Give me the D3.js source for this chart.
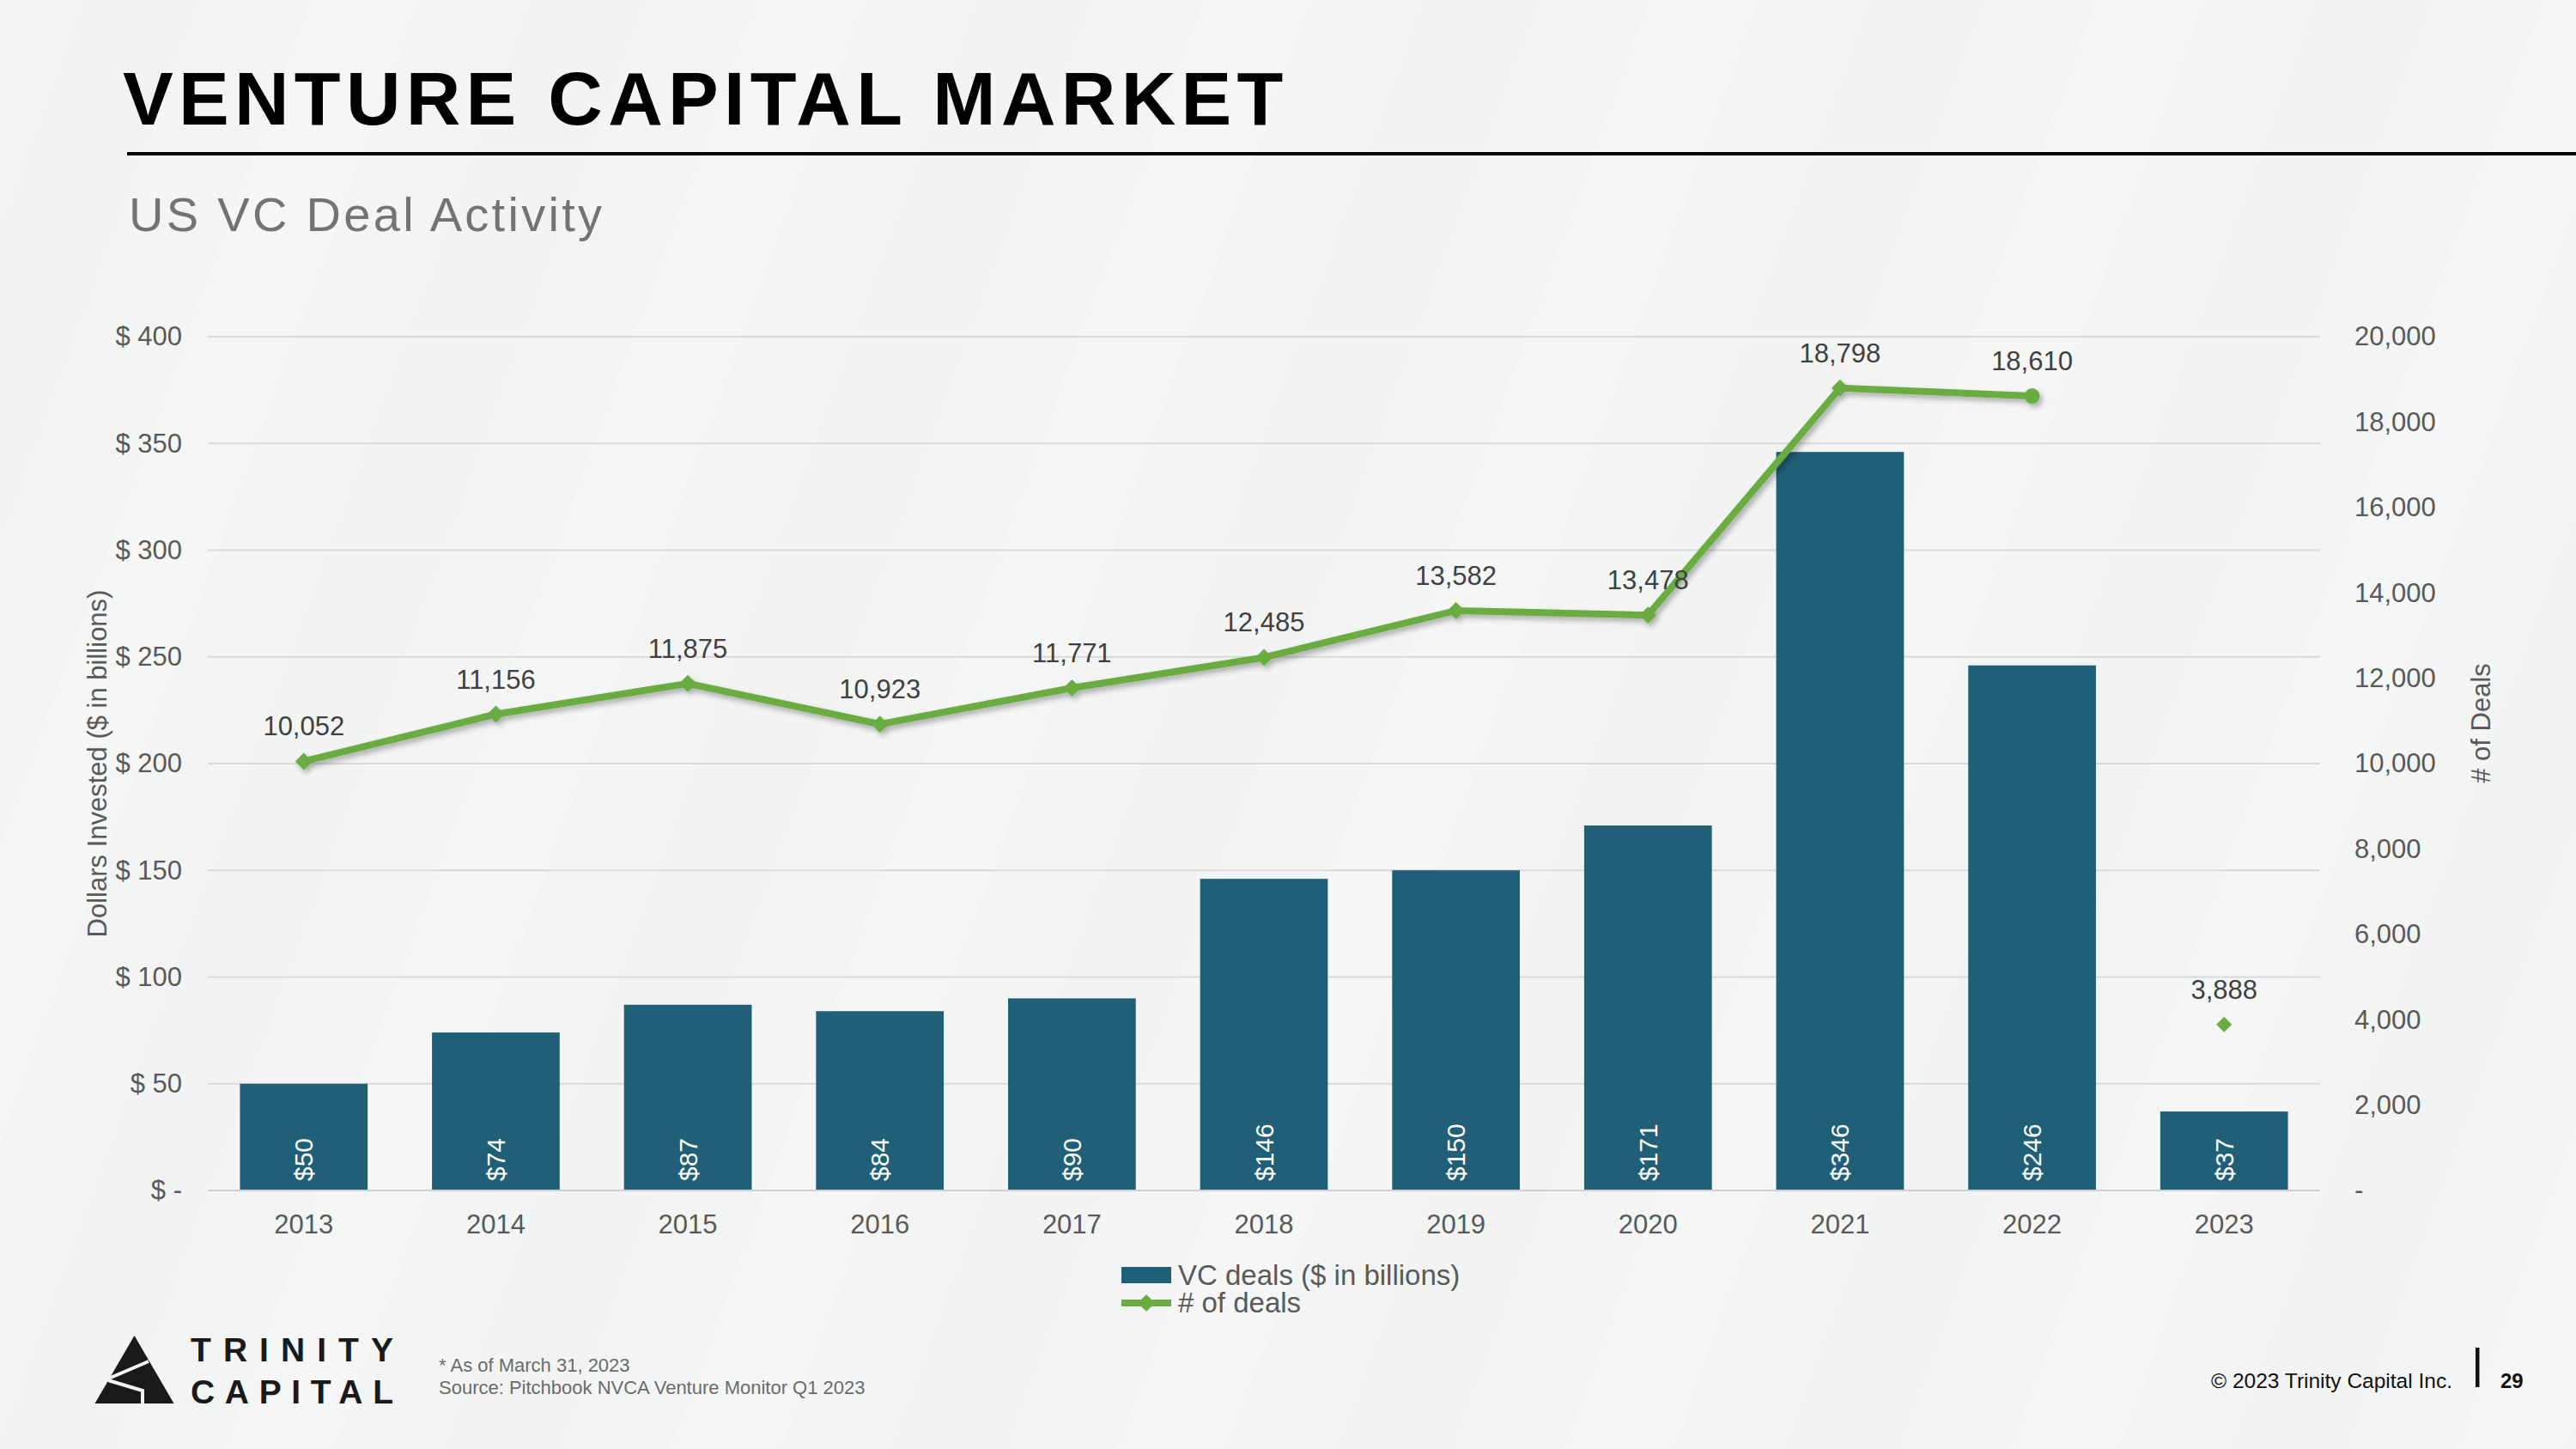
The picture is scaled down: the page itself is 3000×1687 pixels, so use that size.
<!DOCTYPE html>
<html>
<head>
<meta charset="utf-8">
<script src="https://cdn.jsdelivr.net/npm/d3@7"></script>
<style>
  html, body { margin: 0; padding: 0; background: #f4f6f6; }
  svg { display: block; font-family: "Liberation Sans", Arial, sans-serif; }
</style>
</head>
<body>
<svg id="chart" width="3000" height="1687"></svg>
<script>
// ---- data ----
const years = ["2013","2014","2015","2016","2017","2018","2019","2020","2021","2022","2023"];
const dollars = [50, 74, 87, 84, 90, 146, 150, 171, 346, 246, 37];
const deals = [10052, 11156, 11875, 10923, 11771, 12485, 13582, 13478, 18798, 18610, 3888];
const leftTicks = [0, 50, 100, 150, 200, 250, 300, 350, 400];
const rightTicks = [0, 2000, 4000, 6000, 8000, 10000, 12000, 14000, 16000, 18000, 20000];
const titleText = "VENTURE CAPITAL MARKET";
const subtitleText = "US VC Deal Activity";
const leftAxisTitle = "Dollars Invested ($ in billions)";
const rightAxisTitle = "# of Deals";
const legendLabels = ["VC deals ($ in billions)", "# of deals"];
const footnotes = ["* As of March 31, 2023", "Source: Pitchbook NVCA Venture Monitor Q1 2023"];
const copyright = "\u00A9 2023 Trinity Capital Inc.";
const pageNumber = "29";

const barColor = "#1f5f78";
const lineColor = "#6aab42";
const axisTextColor = "#595959";

const svg = d3.select("#chart");

// ---- background with faint diagonal stripes ----
const defs = svg.append("defs");
svg.append("rect").attr("width", 3000).attr("height", 1687).attr("fill", "#f3f5f5");
const stripeG = svg.append("g");
for (let i = -6; i < 16; i++) {
  const x0 = i * 260;
  stripeG.append("path")
    .attr("d", `M${x0},1687 L${x0 + 130},1687 L${x0 + 130 + 620},0 L${x0 + 620},0 Z`)
    .attr("fill", i % 2 ? "#f6f7f7" : "#f2f4f4")
    .attr("opacity", 0.6);
}

const shadow = defs.append("filter").attr("id", "shadow")
  .attr("x", "-10%").attr("y", "-10%").attr("width", "120%").attr("height", "130%");
shadow.append("feDropShadow").attr("dx", 3).attr("dy", 4).attr("stdDeviation", 3)
  .attr("flood-color", "#000").attr("flood-opacity", 0.3);

// ---- title ----
svg.append("text").attr("x", 143).attr("y", 145)
  .attr("font-size", 88).attr("font-weight", "bold").attr("fill", "#000")
  .attr("letter-spacing", 6.3).text(titleText);
svg.append("rect").attr("x", 148).attr("y", 177).attr("width", 2852).attr("height", 4).attr("fill", "#000");
svg.append("text").attr("x", 150).attr("y", 269)
  .attr("font-size", 56).attr("fill", "#737373").attr("letter-spacing", 3.3).text(subtitleText);

// ---- scales ----
const x = d3.scaleBand().domain(years).range([242, 2702]).paddingInner(0.335).paddingOuter(0.1675);
const yL = d3.scaleLinear().domain([0, 400]).range([1386, 392]);
const yR = d3.scaleLinear().domain([0, 20000]).range([1386, 392]);

// ---- gridlines ----
const grid = svg.append("g");
grid.selectAll("line").data(leftTicks).join("line")
  .attr("x1", 242).attr("x2", 2702)
  .attr("y1", d => yL(d)).attr("y2", d => yL(d))
  .attr("stroke", "#d9d9d9").attr("stroke-width", 2);

// ---- left axis ----
const leftAxis = d3.axisLeft(yL).tickValues(leftTicks).tickSize(0).tickPadding(0)
  .tickFormat(d => d === 0 ? "$ -" : "$ " + d);
const gL = svg.append("g").attr("transform", "translate(212,0)").call(leftAxis);
gL.select(".domain").remove();
gL.selectAll("text").attr("font-size", 31).attr("fill", axisTextColor)
  .attr("font-family", "Liberation Sans, Arial, sans-serif");

// ---- right axis ----
const rightAxis = d3.axisRight(yR).tickValues(rightTicks).tickSize(0).tickPadding(0)
  .tickFormat(d => d === 0 ? "-" : d3.format(",")(d));
const gR = svg.append("g").attr("transform", "translate(2742,0)").call(rightAxis);
gR.select(".domain").remove();
gR.selectAll("text").attr("font-size", 31).attr("fill", axisTextColor)
  .attr("font-family", "Liberation Sans, Arial, sans-serif");

// ---- x axis ----
const xAxis = d3.axisBottom(x).tickSize(0).tickPadding(0);
const gX = svg.append("g").attr("transform", "translate(0,1414)").call(xAxis);
gX.select(".domain").remove();
gX.selectAll("text").attr("font-size", 31).attr("fill", axisTextColor)
  .attr("font-family", "Liberation Sans, Arial, sans-serif");

// ---- axis titles ----
svg.append("text").attr("transform", `translate(113,${(392 + 1386) / 2}) rotate(-90)`)
  .attr("text-anchor", "middle").attr("dominant-baseline", "central")
  .attr("font-size", 31).attr("fill", axisTextColor).text(leftAxisTitle);
svg.append("text").attr("transform", `translate(2889,842) rotate(-90)`)
  .attr("text-anchor", "middle").attr("dominant-baseline", "central")
  .attr("font-size", 31).attr("fill", axisTextColor).text(rightAxisTitle);

// ---- bars ----
svg.append("g").selectAll("rect").data(years).join("rect")
  .attr("x", d => x(d)).attr("width", x.bandwidth())
  .attr("y", (d, i) => yL(dollars[i])).attr("height", (d, i) => yL(0) - yL(dollars[i]))
  .attr("fill", barColor);

// zero axis line
svg.append("line").attr("x1", 242).attr("x2", 2702).attr("y1", yL(0)).attr("y2", yL(0))
  .attr("stroke", "#d0d0d0").attr("stroke-width", 2);

// bar labels
svg.append("g").selectAll("text").data(years).join("text")
  .attr("transform", d => `translate(${x(d) + x.bandwidth() / 2},${yL(0) - 11}) rotate(-90)`)
  .attr("text-anchor", "start").attr("dominant-baseline", "central")
  .attr("font-size", 30).attr("fill", "#ffffff")
  .text((d, i) => "$" + dollars[i]);

// ---- line (2013-2022) ----
const lineYears = years.slice(0, 10);
const lineVals = deals.slice(0, 10);
const line = d3.line().x((d, i) => x(lineYears[i]) + x.bandwidth() / 2).y(d => yR(d));
const lineG = svg.append("g").attr("filter", "url(#shadow)");
lineG.append("path").datum(lineVals).attr("d", line)
  .attr("fill", "none").attr("stroke", lineColor).attr("stroke-width", 8)
  .attr("stroke-linejoin", "miter");

const diamond = (cx, cy, r) => `M${cx},${cy - r} L${cx + r},${cy} L${cx},${cy + r} L${cx - r},${cy} Z`;
years.forEach((yr, i) => {
  const cx = x(yr) + x.bandwidth() / 2, cy = yR(deals[i]);
  if (i === 9) {
    lineG.append("circle").attr("cx", cx).attr("cy", cy).attr("r", 9).attr("fill", lineColor);
  } else if (i === 10) {
    svg.append("path").attr("d", diamond(cx, cy, 9)).attr("fill", lineColor);
  } else {
    lineG.append("path").attr("d", diamond(cx, cy, 10)).attr("fill", lineColor);
  }
});

// line labels
svg.append("g").selectAll("text").data(years).join("text")
  .attr("x", d => x(d) + x.bandwidth() / 2)
  .attr("y", (d, i) => yR(deals[i]) - 30)
  .attr("text-anchor", "middle").attr("font-size", 31).attr("fill", "#404040")
  .text((d, i) => d3.format(",")(deals[i]));

// ---- legend ----
const lg = svg.append("g");
lg.append("rect").attr("x", 1306).attr("y", 1475).attr("width", 58).attr("height", 19).attr("fill", barColor);
lg.append("text").attr("x", 1372).attr("y", 1496).attr("font-size", 33).attr("fill", axisTextColor).text(legendLabels[0]);
lg.append("line").attr("x1", 1306).attr("x2", 1364).attr("y1", 1517).attr("y2", 1517)
  .attr("stroke", lineColor).attr("stroke-width", 8);
lg.append("path").attr("d", diamond(1335, 1517, 10)).attr("fill", lineColor);
lg.append("text").attr("x", 1372).attr("y", 1528).attr("font-size", 33).attr("fill", axisTextColor).text(legendLabels[1]);

// ---- footer: logo ----
const logo = svg.append("g");
logo.append("path").attr("d", "M156.5,1555 L202.5,1634 L110.5,1634 Z").attr("fill", "#1a1a1a");
logo.append("path").attr("d", "M124,1606 L173,1585").attr("stroke", "#f3f5f5").attr("stroke-width", 4);
logo.append("path").attr("d", "M126,1607 L166,1619 L166,1636").attr("stroke", "#f3f5f5").attr("stroke-width", 4).attr("fill", "none");
logo.append("text").attr("x", 222).attr("y", 1585).attr("font-size", 39).attr("font-weight", 600)
  .attr("fill", "#1a1a1a").attr("textLength", 236).attr("lengthAdjust", "spacing").text("TRINITY");
logo.append("text").attr("x", 222).attr("y", 1634).attr("font-size", 39).attr("font-weight", 600)
  .attr("fill", "#1a1a1a").attr("textLength", 236).attr("lengthAdjust", "spacing").text("CAPITAL");

// footnotes
svg.append("text").attr("x", 511).attr("y", 1597).attr("font-size", 22).attr("fill", "#6b6b6b").text(footnotes[0]);
svg.append("text").attr("x", 511).attr("y", 1623).attr("font-size", 22).attr("fill", "#6b6b6b").text(footnotes[1]);

// copyright & page
svg.append("text").attr("x", 2856).attr("y", 1616).attr("text-anchor", "end")
  .attr("font-size", 24.5).attr("fill", "#111").text(copyright);
svg.append("rect").attr("x", 2883).attr("y", 1569).attr("width", 4.5).attr("height", 46).attr("fill", "#111");
svg.append("text").attr("x", 2912).attr("y", 1616).attr("font-size", 24).attr("font-weight", "bold")
  .attr("fill", "#111").text(pageNumber);
</script>
</body>
</html>
